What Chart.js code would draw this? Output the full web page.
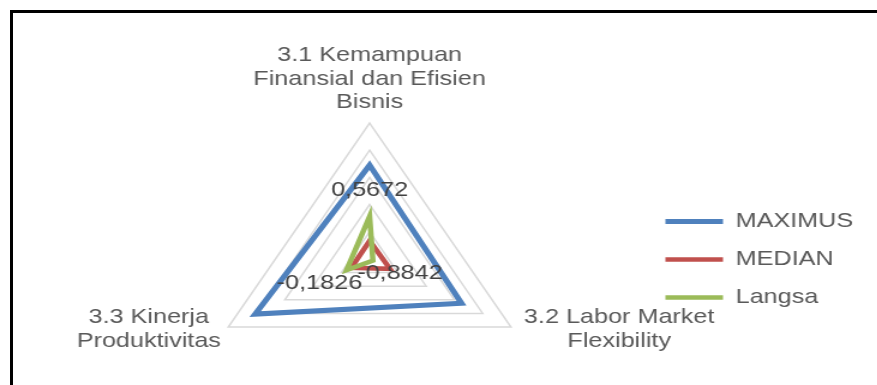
<!DOCTYPE html>
<html lang="id">
<head>
    <meta charset="UTF-8">
    <title>Radar - Langsa</title>
    <style>
        html, body { margin: 0; padding: 0; background: #fff; overflow: hidden; }
        .frame {
            position: absolute; left: 10px; top: 10px;
            width: 900px; height: 400px;
            border: 3px solid #000;
        }
        /* the original picture is stretched sideways, so the chart is too */
        .chart-box {
            position: absolute; left: 0; top: 0;
            width: 731px; height: 385px;
            transform: scaleX(1.2); transform-origin: 0 0;
        }
    </style>
</head>
<body>
    <div class="frame"></div>
    <div class="chart-box">
        <canvas id="chart"></canvas>
    </div>

    <script src="https://cdn.jsdelivr.net/npm/chart.js"></script>
    <script>
        // data
        const categories = [
            ['3.1 Kemampuan', 'Finansial dan Efisien', 'Bisnis'],
            ['3.2 Labor Market', 'Flexibility'],
            ['3.3 Kinerja', 'Produktivitas']
        ];
        const seriesNames = ['MAXIMUS', 'MEDIAN', 'Langsa'];
        const maximusValues = [2.45, 2.25, 3.05];
        const medianValues = [-0.33, -0.28, -0.35];
        const langsaValues = [0.5672, -0.8842, -0.1826];
        const scaleTicks = [-1, 0, 1, 2, 3, 4];

        const colors = ['#4f81bd', '#c0504d', '#9bbb59'];
        const FONT = 'Liberation Sans, Arial, sans-serif';

        // radial scale with a fixed centre and radius (Excel-like layout)
        const Base = Chart.RadialLinearScale || Chart.registry.getScale('radialLinear');
        class FixedRadial extends Base {
            static id = 'fixedRadial';
            setCenterPoint() {
                this.xCenter = 308;
                this.yCenter = 259;
                this.drawingArea = 136;
            }
            fit() {
                super.fit();
                const spots = [[308, 44], [516, 306], [124, 306]];
                (this._pointLabelItems || []).forEach((it, i) => {
                    it.x = spots[i][0];
                    it.y = spots[i][1];
                    it.textAlign = 'center';
                });
            }
        }
        Chart.register(FixedRadial);

        // value labels for Langsa, pushed outward along each axis
        const valueLabels = {
            id: 'valueLabels',
            afterDatasetsDraw(chart) {
                const meta = chart.getDatasetMeta(2);
                const scale = chart.scales.r;
                const ctx = chart.ctx;
                ctx.save();
                ctx.font = '21px ' + FONT;
                ctx.fillStyle = '#404040';
                ctx.textAlign = 'center';
                ctx.textBaseline = 'middle';
                meta.data.forEach((pt, i) => {
                    const a = scale.getIndexAngle(i) - Math.PI / 2;
                    const d = 26;
                    const txt = langsaValues[i].toFixed(4).replace('.', ',');
                    ctx.fillText(txt, pt.x + d * Math.cos(a), pt.y + d * Math.sin(a));
                });
                ctx.restore();
            }
        };

        const series = [maximusValues, medianValues, langsaValues];

        new Chart(document.getElementById('chart'), {
            type: 'radar',
            data: {
                labels: categories,
                datasets: series.map((vals, i) => ({
                    label: seriesNames[i],
                    data: vals,
                    borderColor: colors[i],
                    backgroundColor: colors[i],
                    borderWidth: i === 0 ? 5 : 4.5,
                    borderCapStyle: 'round',
                    fill: false,
                    pointRadius: 0,
                    pointHoverRadius: 0,
                    order: 2 - i
                }))
            },
            options: {
                responsive: true,
                maintainAspectRatio: false,
                animation: false,
                layout: { padding: { top: 134, right: 10 } },
                scales: {
                    r: {
                        type: 'fixedRadial',
                        min: scaleTicks[0],
                        max: scaleTicks[scaleTicks.length - 1],
                        ticks: { display: false, stepSize: 1 },
                        grid: { color: '#d9d9d9', lineWidth: 1.5 },
                        angleLines: { display: false },
                        pointLabels: {
                            color: '#595959',
                            font: { family: FONT, size: 21, lineHeight: 1.11 }
                        }
                    }
                },
                plugins: {
                    tooltip: { enabled: false },
                    legend: {
                        position: 'right',
                        labels: {
                            color: '#595959',
                            font: { family: FONT, size: 21 },
                            usePointStyle: true,
                            pointStyle: 'line',
                            pointStyleWidth: 48,
                            padding: 17,
                            sort: (a, b) => a.datasetIndex - b.datasetIndex
                        }
                    }
                }
            },
            plugins: [valueLabels]
        });
    </script>
</body>
</html>
